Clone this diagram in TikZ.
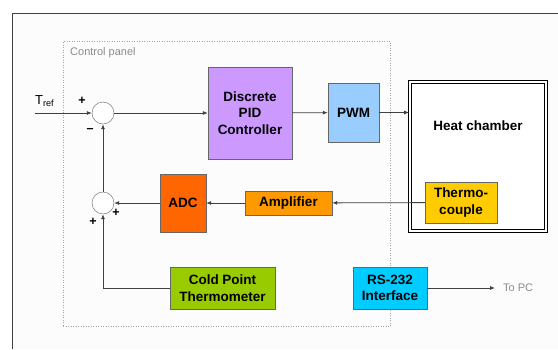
\documentclass[tikz,border=0pt]{standalone}
\usepackage{fontspec}
\setmainfont{Liberation Sans}
\usepackage{tikz}
\usetikzlibrary{arrows.meta,positioning}

\definecolor{pidcol}{HTML}{CC99FF}
\definecolor{pwmcol}{HTML}{99CCFF}
\definecolor{tccol}{HTML}{FFCC00}
\definecolor{ampcol}{HTML}{FF9900}
\definecolor{adccol}{HTML}{FF6600}
\definecolor{coldcol}{HTML}{99CC00}
\definecolor{rscol}{HTML}{00CCFF}

\begin{document}
\begin{tikzpicture}[
    x=1pt, y=-1pt,
    >={Latex[length=5pt,width=4pt]},
    block/.style={draw=black!60, fill=#1, inner sep=0pt, align=center,
        font=\fontsize{13.5}{16.5}\selectfont\bfseries},
    sumnode/.style={circle, draw=black!60, fill=white, minimum size=22pt, inner sep=0pt},
    wire/.style={draw=black!75, line width=0.8pt},
    sign/.style={inner sep=0pt, font=\fontsize{12.5}{12.5}\selectfont\bfseries},
    note/.style={inner sep=0pt, text=black!45, font=\fontsize{11}{11}\selectfont}
]
\useasboundingbox (0,0) rectangle (558,349);
\fill[black!1] (12,13) rectangle (558,349);
\draw[black!75] (558,13) -- (12,13) -- (12,349);

\node[draw=black!35, line width=0.5pt, dotted, minimum width=327pt, minimum height=285pt, inner sep=0pt] (panel) at (226.5,183.5) {};
\node[note, anchor=west] (paneltitle) at (70,53) {Control panel};

\node[sumnode] (S1) at (103,113) {};
\node[sumnode] (S2) at (103,203) {};
\node[block=pidcol, minimum width=84pt, minimum height=92pt] (PID) at (250,113) {Discrete\\PID\\Controller};
\node[block=pwmcol, minimum width=51pt, minimum height=59pt] (PWM) at (353.5,112.5) {PWM};
\node[draw=black, double=white, double distance=1.2pt, line width=1.6pt, fill=white,
      minimum width=136pt, minimum height=149pt, inner sep=0pt] (HC) at (478,156.5) {};
\node[inner sep=0pt, font=\fontsize{13.5}{16.5}\selectfont\bfseries] (HClabel) at (478,126) {Heat chamber};
\node[block=tccol, minimum width=72pt, minimum height=41pt] (TC) at (461,202.5) {Thermo-\\couple};
\node[block=ampcol, minimum width=87pt, minimum height=24pt] (AMP) at (288.5,203) {Amplifier};
\node[block=adccol, minimum width=46pt, minimum height=58pt] (ADC) at (183,203) {ADC};
\node[block=coldcol, minimum width=105pt, minimum height=42pt] (CPT) at (222.5,288) {Cold Point\\Thermometer};
\node[block=rscol, minimum width=74pt, minimum height=42pt] (RS) at (390,288) {RS-232\\Interface};

\coordinate (in) at (35,113);
\coordinate (pc) at (495,288);
\node[inner sep=0pt, anchor=west, font=\fontsize{13}{13}\selectfont] (Tref) at (35,101) {T\textsubscript{ref}};
\node[note, anchor=west] (PClabel) at (503,288) {To PC};

\node[sign] (p1) at (82,101) {+};
\node[sign] (m1) at (90,131) {--};
\node[sign] (p2) at (116,213) {+};
\node[sign] (p3) at (93,222) {+};

\draw[->, wire] (in) -- (S1);
\draw[->, wire] (S1) -- (PID);
\draw[->, wire] (PID) -- (PWM);
\draw[->, wire] (PWM.east) -- (HC.west |- PWM.east);
\draw[->, wire] (TC) -- (AMP);
\draw[->, wire] (AMP) -- (ADC);
\draw[->, wire] (ADC) -- (S2);
\draw[->, wire] (S2) -- (S1);
\draw[->, wire] (CPT.west) -| (S2.south);
\draw[->, wire] (RS) -- (pc);
\end{tikzpicture}
\end{document}
